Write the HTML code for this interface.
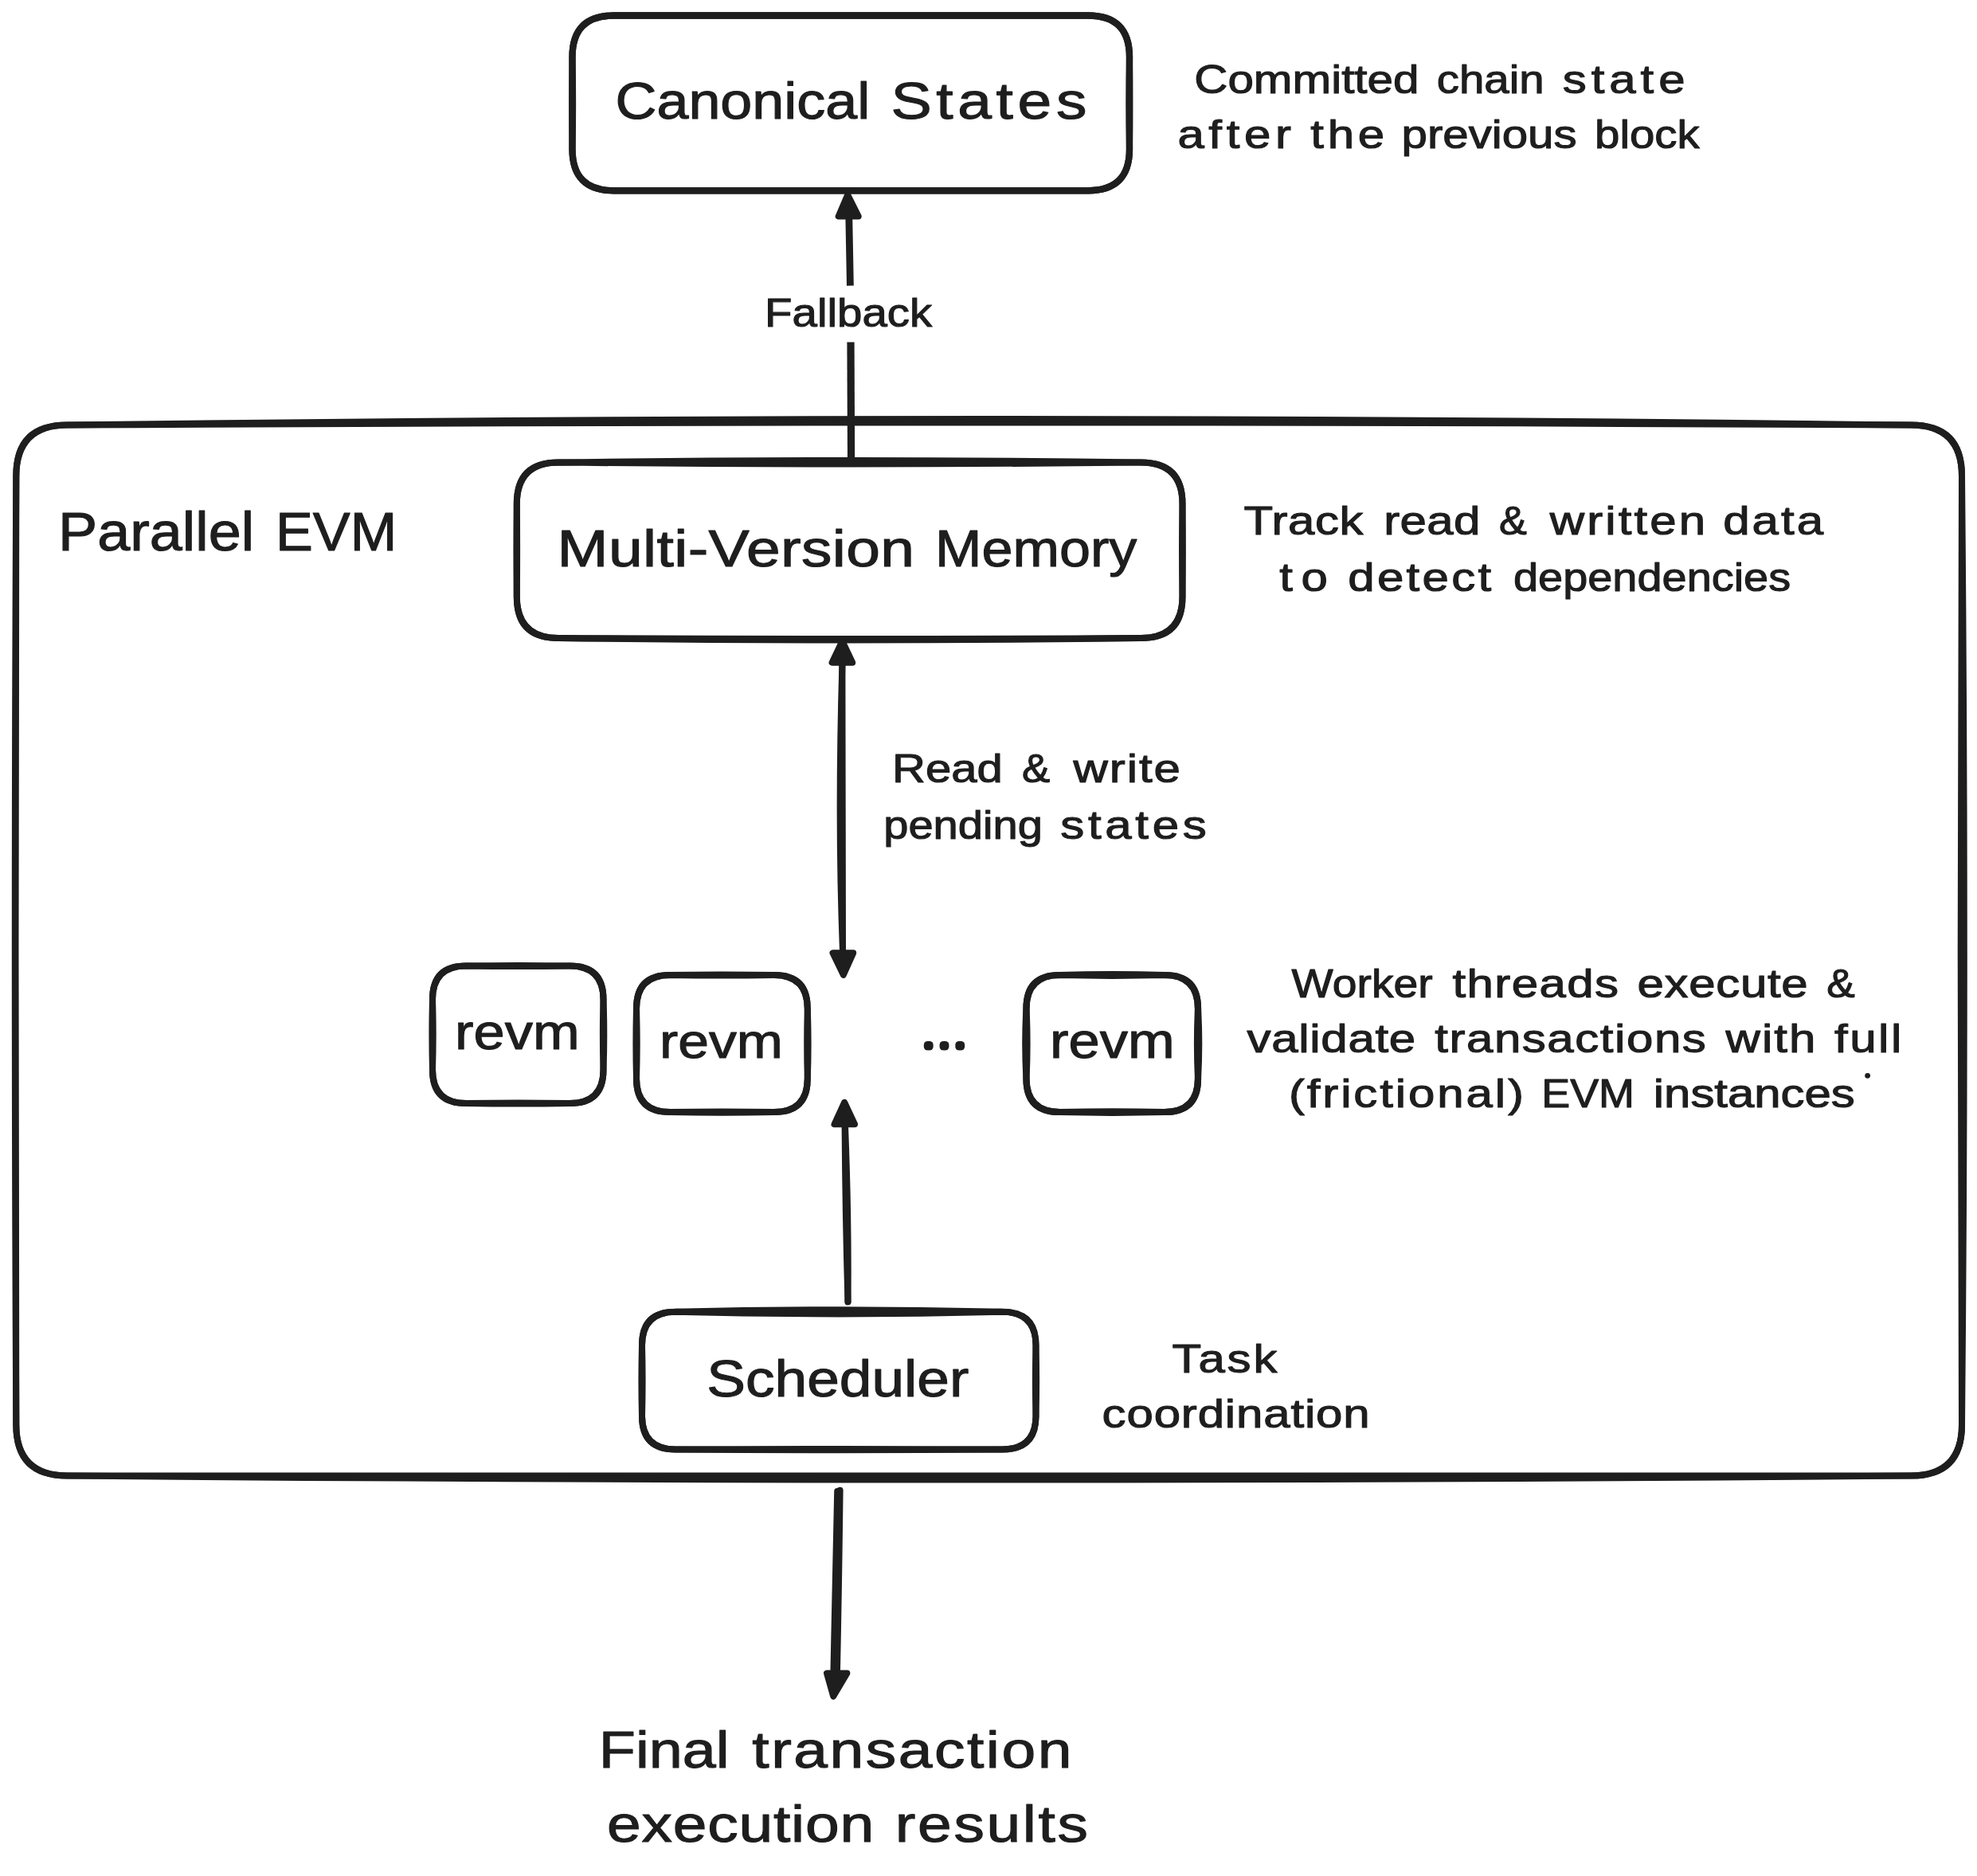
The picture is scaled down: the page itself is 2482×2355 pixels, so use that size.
<!DOCTYPE html>
<html lang="en"><head><meta charset="utf-8"><title>Parallel EVM</title>
<style>
html,body{margin:0;padding:0;background:#fff}
#stage{position:relative;width:2482px;height:2355px;overflow:hidden;background:#fff}
svg{position:absolute;left:0;top:0;display:block}
text{font-family:"Liberation Sans", sans-serif;fill:#1e1e1e;white-space:pre;stroke:#1e1e1e;stroke-linejoin:round}
</style></head><body><div id="stage">
<svg width="2482" height="2355" viewBox="0 0 2482 2355">
<g id="shapes">
<path d="M770.5 19.5 Q1068.2 20.3 1366 19.5 Q1418 19.5 1418 71.5 Q1418.6 129.4 1418 187.3 Q1418 239.3 1366 239.3 Q1068.2 240.3 770.5 239.3 Q718.5 239.3 718.5 187.3 Q717.9 129.4 718.5 71.5 Q718.5 19.5 770.5 19.5 Z" fill="none" stroke="#1e1e1e" stroke-width="8.3" stroke-linecap="round" stroke-linejoin="round"/>
<path d="M770.5 19.5 Q1068.2 18.7 1366 19.5 Q1418 19.5 1418 71.5 Q1416.8 129.4 1418 187.3 Q1418 239.3 1366 239.3 Q1068.2 238.7 770.5 239.3 Q718.5 239.3 718.5 187.3 Q719.5 129.4 718.5 71.5 Q718.5 19.5 770.5 19.5 Z" fill="none" stroke="#1e1e1e" stroke-width="8.3" stroke-linecap="round" stroke-linejoin="round"/>
<path d="M84.3 533.6 Q1241.7 518.4 2399 533.6 Q2463 533.6 2463 597.6 Q2460.4 1193.1 2463 1788.6 Q2463 1852.6 2399 1852.6 Q1241.7 1853.2 84.3 1852.6 Q20.3 1852.6 20.3 1788.6 Q18.7 1193.1 20.3 597.6 Q20.3 533.6 84.3 533.6 Z" fill="none" stroke="#1e1e1e" stroke-width="8" stroke-linecap="round" stroke-linejoin="round"/>
<path d="M84.3 533.6 Q1241.7 527.2 2399 533.6 Q2463 533.6 2463 597.6 Q2468.6 1193.1 2463 1788.6 Q2463 1852.6 2399 1852.6 Q1241.7 1862.6 84.3 1852.6 Q20.3 1852.6 20.3 1788.6 Q17.3 1193.1 20.3 597.6 Q20.3 533.6 84.3 533.6 Z" fill="none" stroke="#1e1e1e" stroke-width="8" stroke-linecap="round" stroke-linejoin="round"/>
<path d="M700.8 580.5 Q1066.7 575.5 1432.5 580.5 Q1484.5 580.5 1484.5 632.5 Q1485.3 690.8 1484.5 749 Q1484.5 801 1432.5 801 Q1066.7 803 700.8 801 Q648.8 801 648.8 749 Q649.4 690.8 648.8 632.5 Q648.8 580.5 700.8 580.5 Z" fill="none" stroke="#1e1e1e" stroke-width="8" stroke-linecap="round" stroke-linejoin="round"/>
<path d="M700.8 580.5 Q1066.7 584.5 1432.5 580.5 Q1484.5 580.5 1484.5 632.5 Q1483.5 690.8 1484.5 749 Q1484.5 801 1432.5 801 Q1066.7 806.2 700.8 801 Q648.8 801 648.8 749 Q648 690.8 648.8 632.5 Q648.8 580.5 700.8 580.5 Z" fill="none" stroke="#1e1e1e" stroke-width="8" stroke-linecap="round" stroke-linejoin="round"/>
<path d="M585 1212.5 Q650.2 1213.5 715.5 1212.5 Q757.5 1212.5 757.5 1254.5 Q759.1 1298.8 757.5 1343 Q757.5 1385 715.5 1385 Q650.2 1386.2 585 1385 Q543 1385 543 1343 Q541.8 1298.8 543 1254.5 Q543 1212.5 585 1212.5 Z" fill="none" stroke="#1e1e1e" stroke-width="8.0" stroke-linecap="round" stroke-linejoin="round"/>
<path d="M585 1212.5 Q650.2 1211.3 715.5 1212.5 Q757.5 1212.5 757.5 1254.5 Q756.3 1298.8 757.5 1343 Q757.5 1385 715.5 1385 Q650.2 1383.8 585 1385 Q543 1385 543 1343 Q544.4 1298.8 543 1254.5 Q543 1212.5 585 1212.5 Z" fill="none" stroke="#1e1e1e" stroke-width="8.0" stroke-linecap="round" stroke-linejoin="round"/>
<path d="M841 1224 Q906.4 1225.2 971.8 1224 Q1013.8 1224 1013.8 1266 Q1015.4 1310 1013.8 1354 Q1013.8 1396 971.8 1396 Q906.4 1397.6 841 1396 Q799 1396 799 1354 Q797.8 1310 799 1266 Q799 1224 841 1224 Z" fill="none" stroke="#1e1e1e" stroke-width="8.0" stroke-linecap="round" stroke-linejoin="round"/>
<path d="M841 1224 Q906.4 1222.8 971.8 1224 Q1013.8 1224 1013.8 1266 Q1012.6 1310 1013.8 1354 Q1013.8 1396 971.8 1396 Q906.4 1395 841 1396 Q799 1396 799 1354 Q800.4 1310 799 1266 Q799 1224 841 1224 Z" fill="none" stroke="#1e1e1e" stroke-width="8.0" stroke-linecap="round" stroke-linejoin="round"/>
<path d="M1330.5 1224 Q1396.2 1225.6 1462 1224 Q1504 1224 1504 1266 Q1506.4 1310 1504 1354 Q1504 1396 1462 1396 Q1396.2 1397.6 1330.5 1396 Q1288.5 1396 1288.5 1354 Q1286.1 1310 1288.5 1266 Q1288.5 1224 1330.5 1224 Z" fill="none" stroke="#1e1e1e" stroke-width="8.2" stroke-linecap="round" stroke-linejoin="round"/>
<path d="M1330.5 1224 Q1396.2 1222.4 1462 1224 Q1504 1224 1504 1266 Q1502 1310 1504 1354 Q1504 1396 1462 1396 Q1396.2 1394.8 1330.5 1396 Q1288.5 1396 1288.5 1354 Q1290.5 1310 1288.5 1266 Q1288.5 1224 1330.5 1224 Z" fill="none" stroke="#1e1e1e" stroke-width="8.2" stroke-linecap="round" stroke-linejoin="round"/>
<path d="M848 1646.8 Q1053.2 1652 1258.5 1646.8 Q1300.5 1646.8 1300.5 1688.8 Q1301.7 1733.2 1300.5 1777.5 Q1300.5 1819.5 1258.5 1819.5 Q1053.2 1821.1 848 1819.5 Q806 1819.5 806 1777.5 Q804.8 1733.2 806 1688.8 Q806 1646.8 848 1646.8 Z" fill="none" stroke="#1e1e1e" stroke-width="8.0" stroke-linecap="round" stroke-linejoin="round"/>
<path d="M848 1646.8 Q1053.2 1641.6 1258.5 1646.8 Q1300.5 1646.8 1300.5 1688.8 Q1299.3 1733.2 1300.5 1777.5 Q1300.5 1819.5 1258.5 1819.5 Q1053.2 1818.3 848 1819.5 Q806 1819.5 806 1777.5 Q807.2 1733.2 806 1688.8 Q806 1646.8 848 1646.8 Z" fill="none" stroke="#1e1e1e" stroke-width="8.0" stroke-linecap="round" stroke-linejoin="round"/>
<path d="M1068.6 581 L1068 429.6" fill="none" stroke="#1e1e1e" stroke-width="9.2" stroke-linecap="butt" stroke-linejoin="round"/>
<path d="M1067.4 358.7 L1065.8 272" fill="none" stroke="#1e1e1e" stroke-width="8.8" stroke-linecap="butt" stroke-linejoin="round"/>
<path d="M1064.2 244.6 L1052.7 271.6 L1077.7 271.6 Z" fill="#1e1e1e" stroke="#1e1e1e" stroke-width="8" stroke-linejoin="round"/>
<path d="M1057.4 834 Q1051.6 1030 1058 1194" fill="none" stroke="#1e1e1e" stroke-width="8" stroke-linecap="round" stroke-linejoin="round"/>
<path d="M1057.4 834 Q1057.6 1030 1058 1194" fill="none" stroke="#1e1e1e" stroke-width="8" stroke-linecap="round" stroke-linejoin="round"/>
<path d="M1057.4 804.7 L1044.6 831.7 L1070.2 831.7 Z" fill="#1e1e1e" stroke="#1e1e1e" stroke-width="8" stroke-linejoin="round"/>
<path d="M1058.8 1223.8 L1045.5 1196.3 L1071.2 1196.3 Z" fill="#1e1e1e" stroke="#1e1e1e" stroke-width="8" stroke-linejoin="round"/>
<path d="M1060.6 1413 Q1061.4 1530 1064.5 1634.3" fill="none" stroke="#1e1e1e" stroke-width="8" stroke-linecap="round" stroke-linejoin="round"/>
<path d="M1061 1413 Q1065.6 1530 1064.5 1634.3" fill="none" stroke="#1e1e1e" stroke-width="8" stroke-linecap="round" stroke-linejoin="round"/>
<path d="M1060.1 1383.8 L1047.5 1411.3 L1073.0 1411.3 Z" fill="#1e1e1e" stroke="#1e1e1e" stroke-width="8" stroke-linejoin="round"/>
<path d="M1051.2 1872 Q1048.4 1990 1046.4 2100" fill="none" stroke="#1e1e1e" stroke-width="8" stroke-linecap="round" stroke-linejoin="round"/>
<path d="M1054.6 1870.8 Q1053.2 1990 1050.9 2100" fill="none" stroke="#1e1e1e" stroke-width="8" stroke-linecap="round" stroke-linejoin="round"/>
<path d="M1046.2 2129.5 L1038 2100.5 L1063.4 2100.5 Z" fill="#1e1e1e" stroke="#1e1e1e" stroke-width="8" stroke-linejoin="round"/>
<circle cx="2344.6" cy="1350.3" r="3.4" fill="#1e1e1e"/>
</g>
<g id="labels">
<g><text transform="translate(772.5 148.5) scale(1.1233 1)" font-size="64" stroke-width="1.1" style="letter-spacing:0.00px">Canonical </text><text transform="translate(1118.4 148.5) scale(1.2000 1)" font-size="64" stroke-width="1.1" style="letter-spacing:4.70px">States</text></g>
<g><text transform="translate(699.6 710.5) scale(1.2000 1)" font-size="64" stroke-width="1.1" style="letter-spacing:0.32px">Multi-Version </text><text transform="translate(1174.1 710.5) scale(1.0963 1)" font-size="64" stroke-width="1.1" style="letter-spacing:0.00px">Memory</text></g>
<g><text transform="translate(73.1 690.5) scale(1.0847 1)" font-size="68" stroke-width="1.1" style="letter-spacing:0.00px">Parallel </text><text transform="translate(346.0 690.5) scale(1.0333 1)" font-size="68" stroke-width="1.1" style="letter-spacing:0.00px">EVM</text></g>
<g><text transform="translate(887.3 1753.0) scale(1.1418 1)" font-size="64" stroke-width="1.1" style="letter-spacing:0.00px">Scheduler</text></g>
<g><text transform="translate(571.0 1317.0) scale(1.1366 1)" font-size="62" stroke-width="1.1" style="letter-spacing:0.00px">revm</text></g>
<g><text transform="translate(828.0 1328.0) scale(1.1250 1)" font-size="62" stroke-width="1.1" style="letter-spacing:0.00px">revm</text></g>
<g><text transform="translate(1318.0 1328.0) scale(1.1366 1)" font-size="62" stroke-width="1.1" style="letter-spacing:0.00px">revm</text></g>
<g><text transform="translate(751.8 2218.7) scale(1.1799 1)" font-size="64" stroke-width="1.1" style="letter-spacing:0.00px">Final </text><text transform="translate(944.3 2218.7) scale(1.2000 1)" font-size="64" stroke-width="1.1" style="letter-spacing:2.12px">transaction</text></g>
<g><text transform="translate(761.9 2311.5) scale(1.2000 1)" font-size="64" stroke-width="1.1" style="letter-spacing:0.68px">execution </text><text transform="translate(1123.8 2311.5) scale(1.2000 1)" font-size="64" stroke-width="1.1" style="letter-spacing:2.21px">results</text></g>
<g><text transform="translate(1499.2 117.0) scale(1.1683 1)" font-size="50" stroke-width="1.1" style="letter-spacing:-0.00px">Committed </text><text transform="translate(1803.7 117.0) scale(1.1288 1)" font-size="50" stroke-width="1.1" style="letter-spacing:0.00px">chain </text><text transform="translate(1961.8 117.0) scale(1.2000 1)" font-size="50" stroke-width="1.1" style="letter-spacing:4.94px">state</text></g>
<g><text transform="translate(1478.4 186.0) scale(1.2000 1)" font-size="50" stroke-width="1.1" style="letter-spacing:4.67px">after </text><text transform="translate(1645.2 186.0) scale(1.2000 1)" font-size="50" stroke-width="1.1" style="letter-spacing:3.98px">the </text><text transform="translate(1759.5 186.0) scale(1.1649 1)" font-size="50" stroke-width="1.1" style="letter-spacing:0.00px">previous </text><text transform="translate(2002.0 186.0) scale(1.1297 1)" font-size="50" stroke-width="1.1" style="letter-spacing:0.00px">block</text></g>
<g><text transform="translate(960.0 409.5) scale(1.1295 1)" font-size="50" stroke-width="1.1" style="letter-spacing:0.00px">Fallback</text></g>
<g><text transform="translate(1561.6 671.0) scale(1.2000 1)" font-size="50" stroke-width="1.1" style="letter-spacing:0.46px">Track </text><text transform="translate(1737.2 671.0) scale(1.2000 1)" font-size="50" stroke-width="1.1" style="letter-spacing:0.30px">read </text><text transform="translate(1882.0 671.0) scale(1.0469 1)" font-size="50" stroke-width="1.1" style="letter-spacing:0.00px">&amp; </text><text transform="translate(1945.8 671.0) scale(1.2000 1)" font-size="50" stroke-width="1.1" style="letter-spacing:2.58px">written </text><text transform="translate(2163.2 671.0) scale(1.2000 1)" font-size="50" stroke-width="1.1" style="letter-spacing:2.55px">data</text></g>
<g><text transform="translate(1606.2 741.5) scale(1.2000 1)" font-size="50" stroke-width="1.1" style="letter-spacing:8.86px">to </text><text transform="translate(1692.3 741.5) scale(1.2000 1)" font-size="50" stroke-width="1.1" style="letter-spacing:2.74px">detect </text><text transform="translate(1900.0 741.5) scale(1.1184 1)" font-size="50" stroke-width="1.1" style="letter-spacing:0.00px">dependencies</text></g>
<g><text transform="translate(1120.1 982.0) scale(1.1612 1)" font-size="50" stroke-width="1.1" style="letter-spacing:0.00px">Read </text><text transform="translate(1283.0 982.0) scale(1.0563 1)" font-size="50" stroke-width="1.1" style="letter-spacing:0.00px">&amp; </text><text transform="translate(1347.5 982.0) scale(1.2000 1)" font-size="50" stroke-width="1.1" style="letter-spacing:1.60px">write</text></g>
<g><text transform="translate(1109.2 1053.0) scale(1.1223 1)" font-size="50" stroke-width="1.1" style="letter-spacing:0.00px">pending </text><text transform="translate(1331.3 1053.0) scale(1.2000 1)" font-size="50" stroke-width="1.1" style="letter-spacing:3.89px">states</text></g>
<g><text transform="translate(1621.5 1251.5) scale(1.1062 1)" font-size="50" stroke-width="1.1" style="letter-spacing:0.00px">Worker </text><text transform="translate(1823.5 1251.5) scale(1.2000 1)" font-size="50" stroke-width="1.1" style="letter-spacing:1.18px">threads </text><text transform="translate(2055.5 1251.5) scale(1.2000 1)" font-size="50" stroke-width="1.1" style="letter-spacing:0.56px">execute </text><text transform="translate(2293.3 1251.5) scale(1.0656 1)" font-size="50" stroke-width="1.1" style="letter-spacing:0.00px">&amp;</text></g>
<g><text transform="translate(1565.5 1321.0) scale(1.2000 1)" font-size="50" stroke-width="1.1" style="letter-spacing:0.59px">validate </text><text transform="translate(1801.2 1321.0) scale(1.2000 1)" font-size="50" stroke-width="1.1" style="letter-spacing:1.30px">transactions </text><text transform="translate(2166.6 1321.0) scale(1.2000 1)" font-size="50" stroke-width="1.1" style="letter-spacing:1.71px">with </text><text transform="translate(2303.0 1321.0) scale(1.2000 1)" font-size="50" stroke-width="1.1" style="letter-spacing:2.09px">full</text></g>
<g><text transform="translate(1617.9 1390.0) scale(1.2000 1)" font-size="50" stroke-width="1.1" style="letter-spacing:2.40px">(frictional) </text><text transform="translate(1935.2 1390.0) scale(1.0785 1)" font-size="50" stroke-width="1.1" style="letter-spacing:0.00px">EVM </text><text transform="translate(2075.8 1390.0) scale(1.1982 1)" font-size="50" stroke-width="1.1" style="letter-spacing:0.00px">instances</text></g>
<g><text transform="translate(1471.6 1722.8) scale(1.2000 1)" font-size="50" stroke-width="1.1" style="letter-spacing:2.34px">Task</text></g>
<g><text transform="translate(1383.6 1792.0) scale(1.2000 1)" font-size="50" stroke-width="1.1" style="letter-spacing:0.70px">coordination</text></g>
<g style="isolation:isolate;mix-blend-mode:multiply"><text transform="translate(1162.15 1313.61) scale(1.05 1)" font-size="24" stroke-width="9.0" style="letter-spacing:12.14px">...</text></g>
</g>
</svg></div></body></html>
